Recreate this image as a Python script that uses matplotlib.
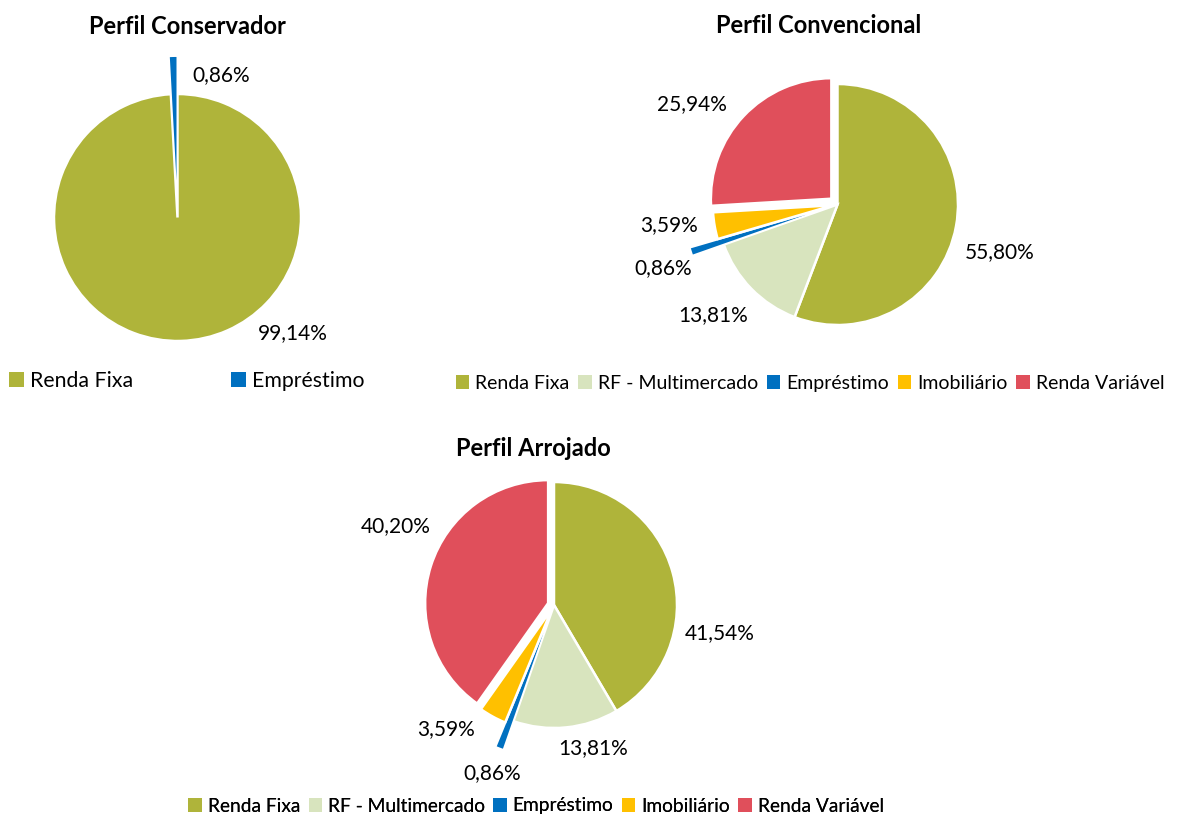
import matplotlib
matplotlib.use("Agg")
import matplotlib.pyplot as plt
from matplotlib.patches import Patch

plt.rcParams['font.family'] = ['Lato', 'DejaVu Sans']

W, H = 1183, 817

# ---- data ----
categories_cons = ["Renda Fixa", "Empréstimo"]
values_cons = [99.14, 0.86]

categories = ["Renda Fixa", "RF - Multimercado", "Empréstimo", "Imobiliário", "Renda Variável"]
values_conv = [55.80, 13.81, 0.86, 3.59, 25.94]
values_arro = [41.54, 13.81, 0.86, 3.59, 40.20]

titles = ["Perfil Conservador", "Perfil Convencional", "Perfil Arrojado"]

# ---- styles ----
color_map = {
    "Renda Fixa": "#AFB43A",
    "RF - Multimercado": "#D8E4BE",
    "Empréstimo": "#0070C0",
    "Imobiliário": "#FFC000",
    "Renda Variável": "#E04F5B",
}

fig = plt.figure(figsize=(W / 100, H / 100), dpi=100)
ax = fig.add_axes([0, 0, 1, 1])

def fmt(v):
    return f"{v:.2f}%".replace(".", ",")

wp = dict(edgecolor="white", linewidth=1.8)

def draw_pie(cats, vals, explode, center, radius, label_pos, title, title_pos,
             label_size=15):
    cols = [color_map[c] for c in cats]
    expl = [e * radius for e in explode]
    wedges, _ = ax.pie(vals, explode=expl, colors=cols, startangle=90,
                       counterclock=False, center=(center[0], H - center[1]),
                       radius=radius, wedgeprops=wp)
    for c, w in zip(cats, wedges):
        if c == "Empréstimo":
            w.set_linewidth(0)
    for v, (lx, ly) in zip(vals, label_pos):
        ax.text(lx, H - ly, fmt(v), ha="center", va="center",
                fontsize=label_size, color="#000000")
    ax.text(title_pos[0], H - title_pos[1], title, ha="center", va="center",
            fontsize=17, fontweight="bold", color="#000000")
    return wedges

# Conservador
draw_pie(categories_cons, values_cons, [0, 0.30], (177.5, 217.5), 123.5,
         [(293, 333), (221, 75)], titles[0], (187, 26))

# Convencional
draw_pie(categories, values_conv, [0, 0, 0.27, 0.035, 0.07], (837.5, 204.5), 120.5,
         [(1000, 252), (713, 315), (663, 268), (669, 225), (692, 104)],
         titles[1], (819, 25))

# Arrojado
draw_pie(categories, values_arro, [0, 0, 0.24, 0.035, 0.05], (554, 605), 123,
         [(720, 633), (593, 748), (492, 773), (446, 729), (396, 526)],
         titles[2], (533, 448))

ax.set_xlim(0, W)
ax.set_ylim(0, H)
ax.set_aspect("equal")
ax.axis("off")

def make_legend(cats, x, y, fontsize, colspacing, loc):
    handles = [Patch(facecolor=color_map[c], edgecolor="none") for c in cats]
    leg = ax.legend(handles, cats, loc=loc, bbox_to_anchor=(x, H - y),
                    bbox_transform=ax.transData, ncol=len(cats), frameon=False,
                    fontsize=fontsize, handlelength=0.7, handleheight=0.7,
                    handletextpad=0.3, columnspacing=colspacing,
                    borderaxespad=0, borderpad=0)
    ax.add_artist(leg)
    return leg

make_legend(categories_cons, 9, 381, 15.3, 4.6, "center left")
make_legend(categories, 810, 383, 14, 0.45, "center")
make_legend(categories, 536, 806, 13.8, 0.45, "center")

fig.savefig("out.png", dpi=100)
